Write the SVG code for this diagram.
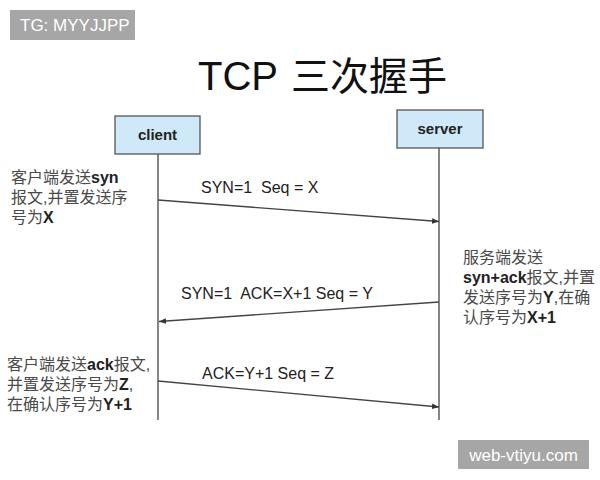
<svg xmlns="http://www.w3.org/2000/svg" width="600" height="480" viewBox="0 0 600 480">
<defs>
<marker id="ah" viewBox="0 0 10 10" refX="10" refY="5" markerWidth="7" markerHeight="7" markerUnits="userSpaceOnUse" orient="auto">
<path d="M0,1 L10,5 L0,9 z" fill="#333"/>
</marker>
<style>
.lat{font-family:"Liberation Sans",Arial,sans-serif;}
.cjk{font-family:"Liberation Sans","Noto Sans CJK SC",sans-serif;font-size:16px;fill:#4a4a4a;}
.lbl{font-family:"Liberation Sans",Arial,sans-serif;font-size:16px;fill:#222;white-space:pre;}
.box{fill:#cfe9f9;stroke:#555;stroke-width:1.3;}
.life{stroke:#444;stroke-width:1.3;fill:none;}
.msg{stroke:#444;stroke-width:1.3;fill:none;marker-end:url(#ah);}
.badge{fill:#a6a6a6;}
.bt{font-family:"Liberation Sans",Arial,sans-serif;font-size:17px;fill:#fff;}
.b{font-weight:bold;fill:#222;}
</style>
</defs>
<rect width="600" height="480" fill="#fff"/>
<g id="badge-tg"><rect class="badge" x="10" y="10" width="125" height="30"/><text class="bt" x="20" y="31">TG: MYYJJPP</text></g>
<g id="title">
<text x="198" y="90" class="lat" font-size="40" fill="#111">TCP</text>
<text x="291" y="90" font-family="'Noto Sans CJK SC',sans-serif" font-size="39" fill="#111">三次握手</text>
</g>
<g id="client"><rect class="box" x="115" y="116" width="85" height="38"/><text class="lat" x="157.5" y="140" font-size="15" font-weight="bold" fill="#222" text-anchor="middle">client</text></g>
<g id="server"><rect class="box" x="397" y="110" width="86" height="38"/><text class="lat" x="440" y="134" font-size="15" font-weight="bold" fill="#222" text-anchor="middle">server</text></g>
<g id="connectors">
<line class="life" x1="158" y1="154" x2="158" y2="420"/>
<line class="life" x1="439" y1="148" x2="439" y2="420"/>
<line class="msg" x1="158" y1="200" x2="439" y2="221.5"/>
<line class="msg" x1="439" y1="302" x2="159" y2="321.5"/>
<line class="msg" x1="158" y1="381" x2="439" y2="407"/>
</g>
<g id="labels">
<text class="lbl" x="201" y="193" xml:space="preserve">SYN=1  Seq = X</text>
<text class="lbl" x="181" y="299" xml:space="preserve">SYN=1  ACK=X+1 Seq = Y</text>
<text class="lbl" x="202" y="379" xml:space="preserve">ACK=Y+1 Seq = Z</text>
</g>
<g id="note-client-syn">
<text class="cjk" x="11" y="183">客户端发送<tspan class="b">syn</tspan></text>
<text class="cjk" x="11" y="203">报文,并置发送序</text>
<text class="cjk" x="11" y="223">号为<tspan class="b">X</tspan></text>
</g>
<g id="note-server">
<text class="cjk" x="463" y="263">服务端发送</text>
<text class="cjk" x="463" y="283"><tspan class="b">syn+ack</tspan>报文,并置</text>
<text class="cjk" x="463" y="303">发送序号为<tspan class="b">Y</tspan>,在确</text>
<text class="cjk" x="463" y="323">认序号为<tspan class="b">X+1</tspan></text>
</g>
<g id="note-client-ack">
<text class="cjk" x="7" y="370">客户端发送<tspan class="b">ack</tspan>报文,</text>
<text class="cjk" x="7" y="390">并置发送序号为<tspan class="b">Z</tspan>,</text>
<text class="cjk" x="7" y="410">在确认序号为<tspan class="b">Y+1</tspan></text>
</g>
<g id="badge-web"><rect class="badge" x="458" y="440" width="131" height="29"/><text class="bt" x="523.5" y="460.5" text-anchor="middle">web-vtiyu.com</text></g>
</svg>
